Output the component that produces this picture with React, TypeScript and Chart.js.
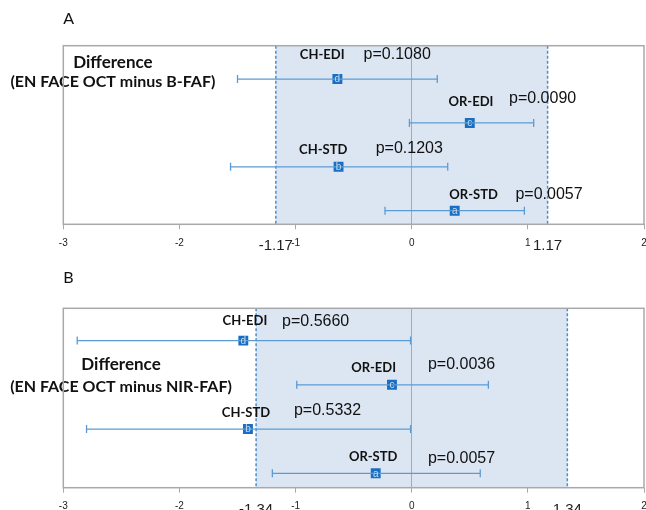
import React, { useEffect, useRef } from "react";
import { Chart, registerables } from "chart.js";

Chart.register(...registerables);

// ---------- data ----------
const categories = ["OR-STD", "CH-STD", "OR-EDI", "CH-EDI"];
const markerLetters = ["a", "b", "c", "d"];
const rowValues = [1, 2, 3, 4];
const xTickValues = [-3, -2, -1, 0, 1, 2];

const aMean = [0.37, -0.63, 0.5, -0.64];
const aLower = [-0.23, -1.56, -0.02, -1.5];
const aUpper = [0.97, 0.31, 1.05, 0.22];
const aPValues = ["p=0.0057", "p=0.1203", "p=0.0090", "p=0.1080"];
const aLimit = 1.17;
const aTitle = ["Difference", "(EN FACE OCT minus B-FAF)"];

const bMean = [-0.31, -1.41, -0.17, -1.45];
const bLower = [-1.2, -2.8, -0.99, -2.88];
const bUpper = [0.59, -0.01, 0.66, -0.01];
const bPValues = ["p=0.0057", "p=0.5332", "p=0.0036", "p=0.5660"];
const bLimit = 1.34;
const bTitle = ["Difference", "(EN FACE OCT minus NIR-FAF)"];

// ---------- annotation placement (data space: [x value, row value]) ----------
const aLabelAt = [[0.533, 1.358], [-0.762, 2.383], [0.51, 3.483], [-0.771, 4.547]];
const aPAt = [[1.182, 1.365], [-0.021, 2.405], [1.127, 3.549], [-0.125, 4.547]];
const aTitleAt = [[-2.573, 4.371], [-2.573, 3.932]];

const bLabelAt = [[-0.332, 1.362], [-1.427, 2.357], [-0.328, 3.376], [-1.436, 4.452]];
const bPAt = [[0.429, 1.339], [-0.725, 2.409], [0.429, 3.45], [-0.827, 4.43]];
const bTitleAt = [[-2.503, 3.466], [-2.503, 2.959]];

// ---------- styles ----------
const BAR = "#5b9bd5";
const MARK = "#1a6ec2";
const SHADE = "#dce6f2";
const LIMIT_LINE = "#4a8fd0";
const GRAY = "#a9a9a9";
const W = 646;
const H = 255;

type Panel = {
  letter: string;
  mean: number[];
  lower: number[];
  upper: number[];
  pValues: string[];
  limit: number;
  title: string[];
  labelAt: number[][];
  pAt: number[][];
  titleAt: number[][];
  yMin: number;
  yMax: number;
  padTop: number;
  axisHeight: number;
  letterDy: number;
};

const panels: Panel[] = [
  {
    letter: "A", mean: aMean, lower: aLower, upper: aUpper, pValues: aPValues, limit: aLimit,
    title: aTitle, labelAt: aLabelAt, pAt: aPAt, titleAt: aTitleAt,
    yMin: 0.69, yMax: 4.76, padTop: 45.7, axisHeight: 30.7, letterDy: 26.7,
  },
  {
    letter: "B", mean: bMean, lower: bLower, upper: bUpper, pValues: bPValues, limit: bLimit,
    title: bTitle, labelAt: bLabelAt, pAt: bPAt, titleAt: bTitleAt,
    yMin: 0.674, yMax: 4.73, padTop: 53.3, axisHeight: 22.3, letterDy: 30.3,
  },
];

const isLimit = (v: number, limit: number) => Math.abs(Math.abs(v) - limit) < 1e-6;

function makeConfig(p: Panel): any {
  const datasets: any[] = rowValues.map((r, i) => ({
    data: [{ x: p.lower[i], y: r }, { x: p.upper[i], y: r }],
    showLine: true,
    borderColor: BAR,
    borderWidth: 1.3,
    pointStyle: "line",
    rotation: 90,
    pointRadius: 4,
    pointHoverRadius: 4,
    pointBorderColor: BAR,
    pointBorderWidth: 1.3,
  }));
  datasets.push({
    data: rowValues.map((r, i) => ({ x: p.mean[i], y: r })),
    pointStyle: "rect",
    pointRadius: 7,
    pointHoverRadius: 7,
    backgroundColor: MARK,
    borderColor: MARK,
    borderWidth: 0,
  });

  const decor = {
    id: "decor",
    beforeDraw(chart: any) {
      const { ctx, chartArea: a, scales } = chart;
      const x = scales.x;
      const l = x.getPixelForValue(-p.limit);
      const r = x.getPixelForValue(p.limit);
      ctx.save();
      ctx.fillStyle = SHADE;
      ctx.fillRect(l, a.top, r - l, a.bottom - a.top);
      ctx.restore();
    },
    beforeDatasetsDraw(chart: any) {
      const { ctx, chartArea: a, scales } = chart;
      const x = scales.x;
      ctx.save();
      ctx.strokeStyle = LIMIT_LINE;
      ctx.lineWidth = 1.5;
      ctx.setLineDash([3, 2]);
      [-p.limit, p.limit].forEach((v) => {
        const px = x.getPixelForValue(v);
        ctx.beginPath();
        ctx.moveTo(px, a.top);
        ctx.lineTo(px, a.bottom);
        ctx.stroke();
      });
      ctx.restore();
    },
    afterDatasetsDraw(chart: any) {
      const { ctx, scales } = chart;
      const x = scales.x;
      const y = scales.y;
      ctx.save();
      ctx.textBaseline = "middle";
      ctx.textAlign = "center";
      // marker letters
      ctx.font = "10px 'Liberation Sans'";
      ctx.fillStyle = "#c5dcf2";
      rowValues.forEach((r, i) => {
        ctx.fillText(markerLetters[i], x.getPixelForValue(p.mean[i]), y.getPixelForValue(r) + 0.5);
      });
      // category labels
      ctx.fillStyle = "#111";
      ctx.font = "bold 13px Lato";
      categories.forEach((c, i) => {
        ctx.fillText(c, x.getPixelForValue(p.labelAt[i][0]), y.getPixelForValue(p.labelAt[i][1]));
      });
      // p-values
      ctx.font = "16px 'Liberation Sans'";
      p.pValues.forEach((t, i) => {
        ctx.fillText(t, x.getPixelForValue(p.pAt[i][0]), y.getPixelForValue(p.pAt[i][1]));
      });
      // titles
      p.title.forEach((t, i) => {
        ctx.font = i === 0 ? "bold 17px Lato" : "bold 16px Lato";
        ctx.fillText(t, x.getPixelForValue(p.titleAt[i][0]), y.getPixelForValue(p.titleAt[i][1]));
      });
      ctx.restore();
    },
    afterDraw(chart: any) {
      const { ctx, chartArea: a } = chart;
      ctx.save();
      ctx.strokeStyle = GRAY;
      ctx.lineWidth = 1.5;
      ctx.strokeRect(a.left, a.top, a.right - a.left, a.bottom - a.top);
      ctx.fillStyle = "#111";
      ctx.font = "16px Lato";
      ctx.textAlign = "left";
      ctx.textBaseline = "middle";
      ctx.fillText(p.letter, a.left, a.top - p.letterDy);
      ctx.restore();
    },
  };

  return {
    type: "scatter",
    data: { datasets },
    plugins: [decor],
    options: {
      animation: false,
      responsive: false,
      events: [],
      layout: { autoPadding: false, padding: { left: 63.3, right: 2, top: p.padTop, bottom: 0 } },
      plugins: { legend: { display: false }, tooltip: { enabled: false } },
      scales: {
        x: {
          type: "linear",
          min: -3,
          max: 2,
          afterBuildTicks: (scale: any) => {
            const vals = [...xTickValues, -p.limit, p.limit].sort((m, n) => m - n);
            scale.ticks = vals.map((v) => ({ value: v }));
          },
          afterFit: (scale: any) => {
            scale.height = p.axisHeight;
            scale.paddingLeft = 0;
            scale.paddingRight = 0;
          },
          border: { display: false },
          grid: {
            color: (c: any) => (c.tick && c.tick.value === 0 ? GRAY : "rgba(0,0,0,0)"),
            tickColor: (c: any) => (c.tick && isLimit(c.tick.value, p.limit) ? "rgba(0,0,0,0)" : GRAY),
            tickLength: 5,
            lineWidth: 1,
          },
          ticks: {
            autoSkip: false,
            maxRotation: 0,
            padding: 8,
            color: "#222",
            font: (c: any) =>
              c.tick && isLimit(c.tick.value, p.limit)
                ? { family: "'Liberation Sans'", size: 15 }
                : { family: "'Liberation Sans'", size: 10 },
            callback: (v: any) => (isLimit(Number(v), p.limit) ? Number(v).toFixed(2) : String(v)),
          },
        },
        y: {
          type: "linear",
          min: p.yMin,
          max: p.yMax,
          display: false,
        },
      },
    },
  };
}

function PanelChart({ panel }: { panel: Panel }) {
  const ref = useRef<HTMLCanvasElement>(null);
  useEffect(() => {
    if (!ref.current) return;
    const chart = new Chart(ref.current, makeConfig(panel));
    return () => chart.destroy();
  }, [panel]);
  return <canvas ref={ref} width={W} height={H} style={{ display: "block", width: W, height: H }} />;
}

export default function App() {
  return (
    <div style={{ position: "absolute", left: 0, top: 0, width: W, height: 2 * H, background: "#fff", overflow: "hidden" }}>
      {panels.map((p) => (
        <PanelChart key={p.letter} panel={p} />
      ))}
    </div>
  );
}
